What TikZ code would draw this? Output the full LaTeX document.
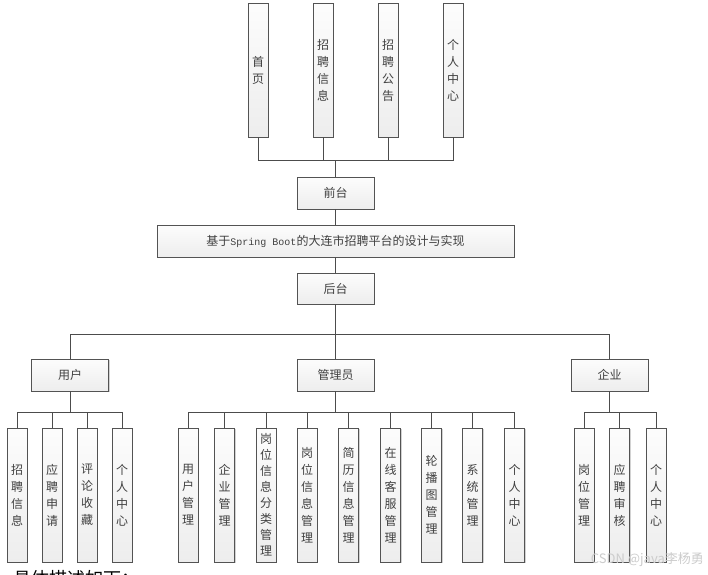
\documentclass[tikz,border=0pt]{standalone}
\usepackage{fontspec}
\setmainfont{Noto Sans CJK SC}
\newfontfamily\latmono{Liberation Mono}
\usetikzlibrary{shadows}
\tikzset{
  box/.style={draw=gray!65!black, line width=0.8pt, top color=gray!2, bottom color=gray!14,
    drop shadow={shadow xshift=1.3pt,shadow yshift=-1.3pt,opacity=0.35,fill=gray},
    font=\fontsize{12}{17}\selectfont, text=black!75, inner sep=0pt, align=center},
  hbox/.style={box, minimum width=77pt, minimum height=32pt},
  vbox/.style={box, minimum width=20pt, minimum height=134pt},
  tight/.style={font=\fontsize{12}{16}\selectfont},
  link/.style={draw=gray!60!black, line width=0.9pt},
}
\begin{document}
\begin{tikzpicture}[x=1pt,y=-1pt]
\useasboundingbox (0,0) rectangle (708,574);
\fill[white] (0,0) rectangle (708,574);
% bus coordinates
\coordinate (b0) at (0,160);
\coordinate (b1) at (0,334);
\coordinate (b2) at (0,412);
% top level
\node[vbox] (t1) at (258,70) {首\\页};
\node[vbox] (t2) at (323,70) {招\\聘\\信\\息};
\node[vbox] (t3) at (388,70) {招\\聘\\公\\告};
\node[vbox] (t4) at (453,70) {个\\人\\中\\心};
\node[hbox] (qt) at (335.5,193) {前台};
\node[hbox, minimum width=357pt] (title) at (335.5,241) {基于{\latmono\fontsize{10}{12}\selectfont Spring Boot}的大连市招聘平台的设计与实现};
\node[hbox, minimum height=31pt] (ht) at (335.5,288.5) {后台};
% second level
\node[hbox] (yh) at (70,375) {用户};
\node[hbox] (gly) at (335.5,375) {管理员};
\node[hbox] (qy) at (609.5,375) {企业};
% user children
\node[vbox] (u1) at (17,495) {招\\聘\\信\\息};
\node[vbox] (u2) at (52,495) {应\\聘\\申\\请};
\node[vbox] (u3) at (87,495) {评\\论\\收\\藏};
\node[vbox] (u4) at (122,495) {个\\人\\中\\心};
% admin children
\node[vbox] (a1) at (188,495) {用\\户\\管\\理};
\node[vbox] (a2) at (224.5,495) {企\\业\\管\\理};
\node[vbox, tight] (a3) at (266,495) {岗\\位\\信\\息\\分\\类\\管\\理};
\node[vbox] (a4) at (307,495) {岗\\位\\信\\息\\管\\理};
\node[vbox] (a5) at (348.5,495) {简\\历\\信\\息\\管\\理};
\node[vbox] (a6) at (390.5,495) {在\\线\\客\\服\\管\\理};
\node[vbox] (a7) at (431.5,495) {轮\\播\\图\\管\\理};
\node[vbox] (a8) at (472.5,495) {系\\统\\管\\理};
\node[vbox] (a9) at (514.5,495) {个\\人\\中\\心};
% enterprise children
\node[vbox] (e1) at (584,495) {岗\\位\\管\\理};
\node[vbox] (e2) at (619.5,495) {应\\聘\\审\\核};
\node[vbox] (e3) at (656,495) {个\\人\\中\\心};
% connectors
\foreach \n in {t1,t2,t3,t4}
  \draw[link] (qt.north) -- (qt.north |- b0) -| (\n.south);
\draw[link] (qt.south) -- (title.north);
\draw[link] (title.south) -- (ht.north);
\foreach \n in {yh,gly,qy}
  \draw[link] (ht.south) -- (ht.south |- b1) -| (\n.north);
\foreach \n in {u1,u2,u3,u4}
  \draw[link] (yh.south) -- (yh.south |- b2) -| (\n.north);
\foreach \n in {a1,a2,a3,a4,a5,a6,a7,a8,a9}
  \draw[link] (gly.south) -- (gly.south |- b2) -| (\n.north);
\foreach \n in {e1,e2,e3}
  \draw[link] (qy.south) -- (qy.south |- b2) -| (\n.north);
% extra texts
\node[anchor=east, inner sep=0pt, text=gray!40, font=\fontsize{13}{13}\selectfont] (wm) at (704,560) {CSDN @java李杨勇};
\node[anchor=north west, inner sep=0pt, text=black, font=\fontsize{18}{18}\selectfont] (desc) at (13,570) {具体描述如下：};
\end{tikzpicture}
\end{document}
